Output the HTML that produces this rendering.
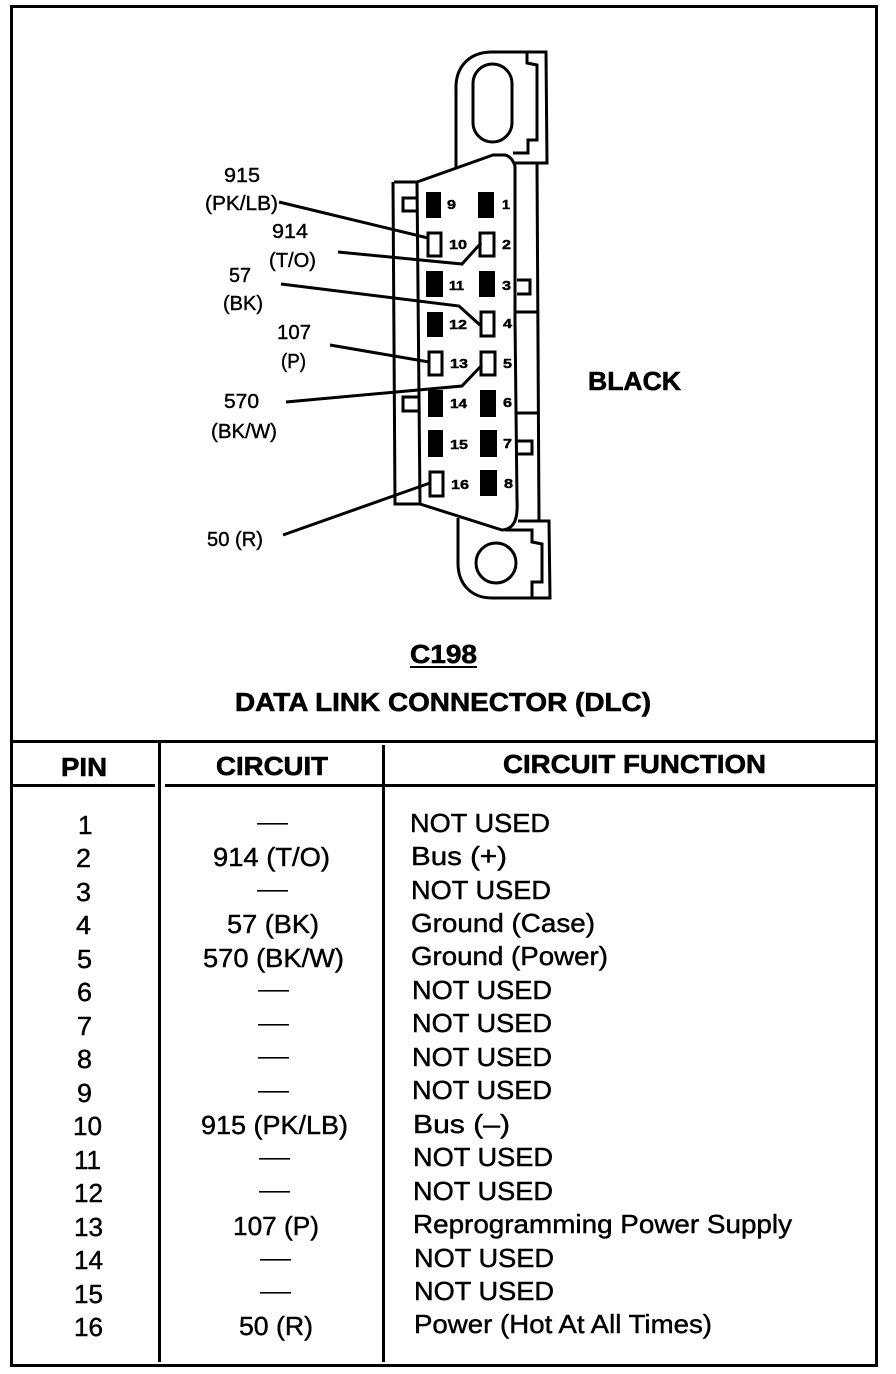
<!DOCTYPE html>
<html><head><meta charset="utf-8"><style>
html,body{margin:0;padding:0;background:#fff;width:896px;height:1374px;overflow:hidden}
svg{display:block}
text{font-family:"Liberation Sans",sans-serif;fill:#000;stroke:#000;stroke-width:.45}
.t{font-size:26px}
.b{font-size:26px;font-weight:bold;stroke-width:.6}
.l{font-size:20px;stroke-width:.4}
.n{font-size:13px;font-weight:bold}
</style></head><body>
<svg width="896" height="1374" viewBox="0 0 896 1374" xmlns="http://www.w3.org/2000/svg">
<rect width="896" height="1374" fill="#fff"/>
<!-- frame -->
<g fill="#000">
<rect x="10" y="5" width="3" height="1362"/>
<rect x="10" y="5" width="867" height="3"/>
<rect x="875" y="5" width="3" height="1362"/>
<rect x="10" y="1364" width="867" height="3"/>
<rect x="11" y="740" width="865" height="3"/>
<rect x="12" y="784" width="143" height="3"/>
<rect x="165" y="784" width="710" height="3"/>
<rect x="158" y="742" width="3" height="620"/>
<rect x="382" y="745" width="3" height="617"/>
</g>
<!-- connector -->
<g fill="none" stroke="#000" stroke-width="3" stroke-linejoin="miter">
<path d="M456 167V90C455 68 468 53 490 52H546L547 163H513"/>
<path d="M527 52V63L537 65V140H528V153H513"/>
<rect x="473" y="64" width="39" height="78" rx="19.5"/>
<path d="M394 182H417L493 155H505C510 156 513 160 515 166V320L517 500C518 518 515 529 502 530L420 504H395L393 182"/>
<path d="M417 182L420 504"/>
<path d="M537 163L539 521"/>
<path d="M516 312H537M516 413H538"/>
<path d="M458 518V563C458 585 472 598 492 598H550L549 521H518"/>
<path d="M505 530H532V542L542 544V582H532V598"/>
<circle cx="496" cy="563" r="20"/>
<path d="M417 198H403V211H417"/>
<path d="M418 397H403V411H418"/>
<path d="M517 280H530V294H517"/>
<path d="M517 441H532V454H517"/>
</g>
<!-- black pins -->
<g fill="#000">
<rect x="426" y="192" width="15" height="26"/>
<rect x="478" y="192" width="16" height="26"/>
<rect x="426" y="271" width="17" height="26"/>
<rect x="479" y="271" width="16" height="26"/>
<rect x="427" y="312" width="16" height="25"/>
<rect x="428" y="390" width="15" height="27"/>
<rect x="480" y="390" width="16" height="27"/>
<rect x="428" y="430" width="15" height="27"/>
<rect x="480" y="430" width="17" height="27"/>
<rect x="480" y="470" width="17" height="26"/>
</g>
<!-- white pins -->
<g fill="#fff" stroke="#000" stroke-width="3">
<rect x="428" y="233" width="13" height="23"/>
<rect x="480" y="233" width="14" height="23"/>
<rect x="481" y="312" width="13" height="24"/>
<rect x="429" y="352" width="13" height="23"/>
<rect x="481" y="352" width="14" height="23"/>
<rect x="430" y="472" width="13" height="24"/>
</g>
<!-- leaders -->
<g fill="none" stroke="#000" stroke-width="3">
<path d="M279 202L428 238"/>
<path d="M338 252L462 264L481 243"/>
<path d="M281 284L459 306L480 325"/>
<path d="M330 345L429 362"/>
<path d="M286 402L462 386L482 365"/>
<path d="M283 535L430 483"/>
</g>
<!-- pin numbers -->
<g class="n">
<text class="n" x="447" y="209" textLength="9" lengthAdjust="spacingAndGlyphs">9</text>
<text class="n" x="502" y="209" textLength="8" lengthAdjust="spacingAndGlyphs">1</text>
<text class="n" x="449" y="249" textLength="18" lengthAdjust="spacingAndGlyphs">10</text>
<text class="n" x="502" y="249" textLength="9" lengthAdjust="spacingAndGlyphs">2</text>
<text class="n" x="449" y="290" textLength="15" lengthAdjust="spacingAndGlyphs">11</text>
<text class="n" x="502" y="290" textLength="9" lengthAdjust="spacingAndGlyphs">3</text>
<text class="n" x="449" y="329" textLength="18" lengthAdjust="spacingAndGlyphs">12</text>
<text class="n" x="503" y="328" textLength="9" lengthAdjust="spacingAndGlyphs">4</text>
<text class="n" x="450" y="368" textLength="18" lengthAdjust="spacingAndGlyphs">13</text>
<text class="n" x="503" y="368" textLength="9" lengthAdjust="spacingAndGlyphs">5</text>
<text class="n" x="450" y="408" textLength="17" lengthAdjust="spacingAndGlyphs">14</text>
<text class="n" x="503" y="407" textLength="9" lengthAdjust="spacingAndGlyphs">6</text>
<text class="n" x="450" y="449" textLength="18" lengthAdjust="spacingAndGlyphs">15</text>
<text class="n" x="503" y="448" textLength="9" lengthAdjust="spacingAndGlyphs">7</text>
<text class="n" x="451" y="489" textLength="18" lengthAdjust="spacingAndGlyphs">16</text>
<text class="n" x="504" y="488" textLength="9" lengthAdjust="spacingAndGlyphs">8</text>
</g>
<!-- wire labels -->
<text class="l" x="224" y="182" textLength="36" lengthAdjust="spacingAndGlyphs">915</text>
<text class="l" x="205" y="210" textLength="73" lengthAdjust="spacingAndGlyphs">(PK/LB)</text>
<text class="l" x="272" y="238" textLength="36" lengthAdjust="spacingAndGlyphs">914</text>
<text class="l" x="269" y="267" textLength="47" lengthAdjust="spacingAndGlyphs">(T/O)</text>
<text class="l" x="229" y="282" textLength="22" lengthAdjust="spacingAndGlyphs">57</text>
<text class="l" x="223" y="310" textLength="40" lengthAdjust="spacingAndGlyphs">(BK)</text>
<text class="l" x="277" y="339" textLength="34" lengthAdjust="spacingAndGlyphs">107</text>
<text class="l" x="281" y="368" textLength="25" lengthAdjust="spacingAndGlyphs">(P)</text>
<text class="l" x="224" y="408" textLength="35" lengthAdjust="spacingAndGlyphs">570</text>
<text class="l" x="211" y="438" textLength="66" lengthAdjust="spacingAndGlyphs">(BK/W)</text>
<text class="l" x="207" y="546" textLength="56" lengthAdjust="spacingAndGlyphs">50 (R)</text>
<!-- titles -->
<text class="b" x="588" y="390" textLength="93" lengthAdjust="spacingAndGlyphs">BLACK</text>
<text class="b" x="410" y="663" textLength="67" lengthAdjust="spacingAndGlyphs">C198</text>
<rect x="410" y="666" width="67" height="2" fill="#000"/>
<text class="b" x="235" y="711" textLength="416" lengthAdjust="spacingAndGlyphs">DATA LINK CONNECTOR (DLC)</text>
<text class="b" x="61" y="776" textLength="46" lengthAdjust="spacingAndGlyphs">PIN</text>
<text class="b" x="216" y="775" textLength="112" lengthAdjust="spacingAndGlyphs">CIRCUIT</text>
<text class="b" x="503" y="773" textLength="263" lengthAdjust="spacingAndGlyphs">CIRCUIT FUNCTION</text>
<!-- pin column -->
<g>
<text class="t" x="78" y="834">1</text>
<text class="t" x="76" y="867" textLength="15" lengthAdjust="spacingAndGlyphs">2</text>
<text class="t" x="76" y="901" textLength="15" lengthAdjust="spacingAndGlyphs">3</text>
<text class="t" x="76" y="934" textLength="15" lengthAdjust="spacingAndGlyphs">4</text>
<text class="t" x="77" y="968" textLength="15" lengthAdjust="spacingAndGlyphs">5</text>
<text class="t" x="77" y="1001" textLength="15" lengthAdjust="spacingAndGlyphs">6</text>
<text class="t" x="77" y="1035" textLength="15" lengthAdjust="spacingAndGlyphs">7</text>
<text class="t" x="77" y="1068" textLength="15" lengthAdjust="spacingAndGlyphs">8</text>
<text class="t" x="77" y="1102" textLength="15" lengthAdjust="spacingAndGlyphs">9</text>
<text class="t" x="73" y="1135" textLength="29" lengthAdjust="spacingAndGlyphs">10</text>
<text class="t" x="74" y="1169" textLength="27" lengthAdjust="spacingAndGlyphs">11</text>
<text class="t" x="74" y="1202" textLength="29" lengthAdjust="spacingAndGlyphs">12</text>
<text class="t" x="74" y="1236" textLength="29" lengthAdjust="spacingAndGlyphs">13</text>
<text class="t" x="74" y="1269" textLength="29" lengthAdjust="spacingAndGlyphs">14</text>
<text class="t" x="74" y="1303" textLength="29" lengthAdjust="spacingAndGlyphs">15</text>
<text class="t" x="74" y="1336" textLength="29" lengthAdjust="spacingAndGlyphs">16</text>
</g>
<!-- circuit column -->
<text class="t" x="213" y="866" textLength="117" lengthAdjust="spacingAndGlyphs">914 (T/O)</text>
<text class="t" x="227" y="933" textLength="92" lengthAdjust="spacingAndGlyphs">57 (BK)</text>
<text class="t" x="203" y="967" textLength="141" lengthAdjust="spacingAndGlyphs">570 (BK/W)</text>
<text class="t" x="201" y="1134" textLength="147" lengthAdjust="spacingAndGlyphs">915 (PK/LB)</text>
<text class="t" x="233" y="1235" textLength="86" lengthAdjust="spacingAndGlyphs">107 (P)</text>
<text class="t" x="239" y="1335" textLength="74" lengthAdjust="spacingAndGlyphs">50 (R)</text>
<g fill="#000">
<rect x="257" y="823" width="31" height="1.6"/>
<rect x="257" y="890" width="31" height="1.6"/>
<rect x="258" y="990" width="31" height="1.6"/>
<rect x="258" y="1024" width="31" height="1.6"/>
<rect x="258" y="1057" width="31" height="1.6"/>
<rect x="258" y="1091" width="31" height="1.6"/>
<rect x="259" y="1158" width="31" height="1.6"/>
<rect x="259" y="1191" width="31" height="1.6"/>
<rect x="260" y="1259" width="31" height="1.6"/>
<rect x="260" y="1292" width="31" height="1.6"/>
</g>
<!-- function column -->
<text class="t" x="410" y="832" textLength="140" lengthAdjust="spacingAndGlyphs">NOT USED</text>
<text class="t" x="411" y="865" textLength="96" lengthAdjust="spacingAndGlyphs">Bus (+)</text>
<text class="t" x="411" y="899" textLength="140" lengthAdjust="spacingAndGlyphs">NOT USED</text>
<text class="t" x="411" y="932" textLength="184" lengthAdjust="spacingAndGlyphs">Ground (Case)</text>
<text class="t" x="411" y="965" textLength="197" lengthAdjust="spacingAndGlyphs">Ground (Power)</text>
<text class="t" x="412" y="999" textLength="140" lengthAdjust="spacingAndGlyphs">NOT USED</text>
<text class="t" x="412" y="1032" textLength="140" lengthAdjust="spacingAndGlyphs">NOT USED</text>
<text class="t" x="412" y="1066" textLength="140" lengthAdjust="spacingAndGlyphs">NOT USED</text>
<text class="t" x="412" y="1099" textLength="140" lengthAdjust="spacingAndGlyphs">NOT USED</text>
<text class="t" x="413" y="1133" textLength="97" lengthAdjust="spacingAndGlyphs">Bus (–)</text>
<text class="t" x="413" y="1166" textLength="140" lengthAdjust="spacingAndGlyphs">NOT USED</text>
<text class="t" x="413" y="1200" textLength="140" lengthAdjust="spacingAndGlyphs">NOT USED</text>
<text class="t" x="413" y="1233" textLength="379" lengthAdjust="spacingAndGlyphs">Reprogramming Power Supply</text>
<text class="t" x="414" y="1267" textLength="140" lengthAdjust="spacingAndGlyphs">NOT USED</text>
<text class="t" x="414" y="1300" textLength="140" lengthAdjust="spacingAndGlyphs">NOT USED</text>
<text class="t" x="414" y="1333" textLength="298" lengthAdjust="spacingAndGlyphs">Power (Hot At All Times)</text>
</svg>
</body></html>
